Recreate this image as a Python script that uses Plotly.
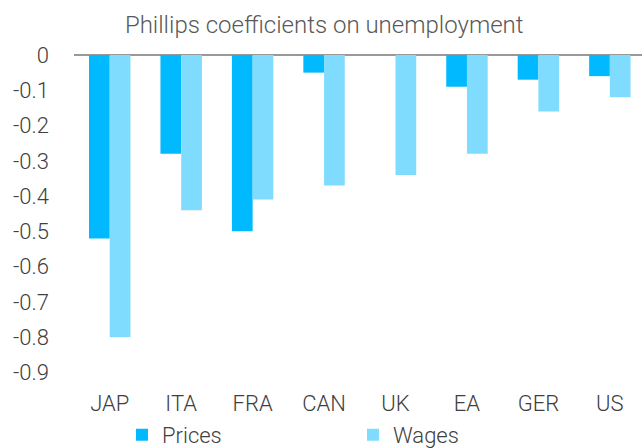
import plotly.graph_objects as go

categories = ["JAP", "ITA", "FRA", "CAN", "UK", "EA", "GER", "US"]
prices = [-0.52, -0.28, -0.50, -0.05, 0.0, -0.09, -0.07, -0.06]
wages = [-0.80, -0.44, -0.41, -0.37, -0.34, -0.28, -0.16, -0.12]
y_ticks = [0, -0.1, -0.2, -0.3, -0.4, -0.5, -0.6, -0.7, -0.8, -0.9]
y_tick_labels = ["0", "-0.1", "-0.2", "-0.3", "-0.4", "-0.5", "-0.6", "-0.7", "-0.8", "-0.9"]

FONT = "Roboto"
TXT = "#404040"
fig = go.Figure()
fig.add_trace(go.Bar(x=categories, y=prices, name="Prices", marker=dict(color="#00B9FF", line=dict(width=0))))
fig.add_trace(go.Bar(x=categories, y=wages, name="Wages", marker=dict(color="#80DCFF", line=dict(width=0))))

fig.update_layout(
    width=642, height=448,
    margin=dict(l=74, r=0, t=55, b=65, autoexpand=False),
    paper_bgcolor="white", plot_bgcolor="white",
    barmode="group", bargap=0.42, bargroupgap=0,
    font=dict(family=FONT, size=22, color=TXT, weight=300),
    title=dict(text="Phillips coefficients on unemployment", x=0.505, xanchor="center",
               y=0.946, yanchor="middle", yref="container",
               font=dict(family=FONT, size=24, color="#595959", weight=300)),
    showlegend=True,
    legend=dict(orientation="h", xref="container", yref="paper", x=0.19, y=-0.094,
                xanchor="left", yanchor="top", entrywidth=186, entrywidthmode="pixels",
                font=dict(family=FONT, size=22, color=TXT, weight=300),
                itemwidth=30, tracegroupgap=0, bgcolor="rgba(0,0,0,0)"),
    xaxis=dict(range=[-0.5, 7.45], showgrid=False, showline=False, zeroline=False,
               automargin=False, ticks="", ticklabelstandoff=5,
               tickfont=dict(family=FONT, size=22, color=TXT, weight=300)),
    yaxis=dict(range=[-0.93, 0.0], tickvals=y_ticks, ticktext=y_tick_labels,
               showgrid=False, zeroline=True, zerolinecolor="#999999", zerolinewidth=1.5,
               showline=False, automargin=False, ticks="", ticklabelstandoff=24,
               tickfont=dict(family=FONT, size=22, color=TXT, weight=300)),
)

fig.write_html("out.html", config={"displayModeBar": False},
               post_script="document.body.style.margin='0';document.body.style.overflow='hidden';")
